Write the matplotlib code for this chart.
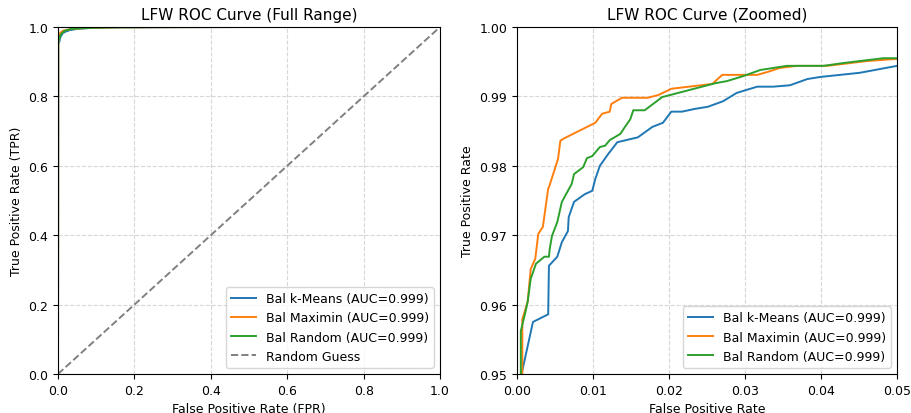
import numpy as np
import matplotlib.pyplot as plt

# ROC points per model (FPR, TPR)
kmeans_fpr = [0.0, 0.0006, 0.0006, 0.0021, 0.0041, 0.0042, 0.0053, 0.0059, 0.0067, 0.0068, 0.0075,
              0.0089, 0.0099, 0.0103, 0.0109, 0.0120, 0.0132, 0.0159, 0.0178, 0.0192, 0.0203,
              0.0217, 0.0234, 0.0251, 0.0271, 0.0289, 0.0316, 0.0337, 0.0359, 0.0382, 0.0399,
              0.0425, 0.0451, 0.0500, 0.060, 0.080, 0.100, 0.150, 0.300, 0.500, 1.0]
kmeans_tpr = [0.0, 0.930, 0.950, 0.9575, 0.9586, 0.9656, 0.9669, 0.9690, 0.9706, 0.9726, 0.9748,
              0.9759, 0.9764, 0.9781, 0.9800, 0.9817, 0.9834, 0.9841, 0.9856, 0.9862, 0.9878,
              0.9878, 0.9882, 0.9885, 0.9893, 0.9905, 0.9914, 0.9914, 0.9916, 0.9925, 0.9928,
              0.9931, 0.9934, 0.9944, 0.9955, 0.9968, 0.9978, 0.9990, 0.9996, 0.9999, 1.0]

maximin_fpr = [0.0, 0.0007, 0.0007, 0.0014, 0.0018, 0.0024, 0.0028, 0.0034, 0.0041, 0.0042, 0.0054,
               0.0057, 0.0061, 0.0103, 0.0112, 0.0122, 0.0124, 0.0138, 0.0172, 0.0186, 0.0203,
               0.0257, 0.0270, 0.0316, 0.0329, 0.0346, 0.0368, 0.0408, 0.0461, 0.0500,
               0.060, 0.080, 0.100, 0.150, 0.300, 0.500, 1.0]
maximin_tpr = [0.0, 0.930, 0.9579, 0.9604, 0.9651, 0.9666, 0.9702, 0.9712, 0.9767, 0.9769, 0.9810,
               0.9836, 0.9839, 0.9862, 0.9875, 0.9878, 0.9889, 0.9898, 0.9898, 0.9902, 0.9911,
               0.9918, 0.9931, 0.9931, 0.9935, 0.9941, 0.9944, 0.9944, 0.9951, 0.9954,
               0.9962, 0.9972, 0.9980, 0.9990, 0.9996, 0.9999, 1.0]

random_fpr = [0.0, 0.0005, 0.0005, 0.0011, 0.0014, 0.0018, 0.0025, 0.0036, 0.0042, 0.0043, 0.0046,
              0.0053, 0.0059, 0.0072, 0.0075, 0.0087, 0.0092, 0.0099, 0.0109, 0.0116, 0.0122,
              0.0136, 0.0142, 0.0149, 0.0153, 0.0168, 0.0191, 0.0261, 0.0276, 0.0297, 0.0320,
              0.0355, 0.0403, 0.0429, 0.0482, 0.0500, 0.060, 0.080, 0.100, 0.150, 0.300, 0.500, 1.0]
random_tpr = [0.0, 0.930, 0.9562, 0.9589, 0.9604, 0.9637, 0.9659, 0.9669, 0.9669, 0.9680, 0.9699,
              0.9719, 0.9748, 0.9774, 0.9788, 0.9798, 0.9811, 0.9814, 0.9827, 0.9829, 0.9837,
              0.9846, 0.9856, 0.9867, 0.9880, 0.9880, 0.9899, 0.9919, 0.9922, 0.9929, 0.9938,
              0.9944, 0.9944, 0.9948, 0.9955, 0.9955, 0.9962, 0.9972, 0.9980, 0.9990, 0.9996, 0.9999, 1.0]

labels = ["Bal k-Means", "Bal Maximin", "Bal Random"]
aucs = [0.999, 0.999, 0.999]
colors = ["#1f77b4", "#ff7f0e", "#2ca02c"]
curves = [(kmeans_fpr, kmeans_tpr), (maximin_fpr, maximin_tpr), (random_fpr, random_tpr)]

plt.rcParams["font.size"] = 9

fig = plt.figure(figsize=(9.12, 4.14), dpi=100)
ax1 = fig.add_axes([0.0636, 0.0942, 0.4189, 0.8382])
ax2 = fig.add_axes([0.5669, 0.0942, 0.4167, 0.8382])

# Full range
for (fpr, tpr), lab, auc, c in zip(curves, labels, aucs, colors):
    ax1.plot(fpr, tpr, color=c, linewidth=1.4, label=f"{lab} (AUC={auc:.3f})")
ax1.plot([0, 1], [0, 1], color="gray", linestyle="--", linewidth=1.4, label="Random Guess")
ax1.set_xlim(0, 1)
ax1.set_ylim(0, 1)
ax1.set_xlabel("False Positive Rate (FPR)")
ax1.set_ylabel("True Positive Rate (TPR)")
ax1.set_title("LFW ROC Curve (Full Range)", fontsize=11)
ax1.grid(True, linestyle="--", alpha=0.5)
ax1.legend(loc="lower right")

# Zoomed on the low-FPR corner
for (fpr, tpr), lab, auc, c in zip(curves, labels, aucs, colors):
    ax2.plot(fpr, tpr, color=c, linewidth=1.4, label=f"{lab} (AUC={auc:.3f})")
ax2.set_xlim(0, 0.05)
ax2.set_ylim(0.95, 1.0)
ax2.set_xlabel("False Positive Rate")
ax2.set_ylabel("True Positive Rate")
ax2.set_title("LFW ROC Curve (Zoomed)", fontsize=11)
ax2.grid(True, linestyle="--", alpha=0.5)
ax2.legend(loc="lower right")

fig.savefig("out.png", dpi=100)
